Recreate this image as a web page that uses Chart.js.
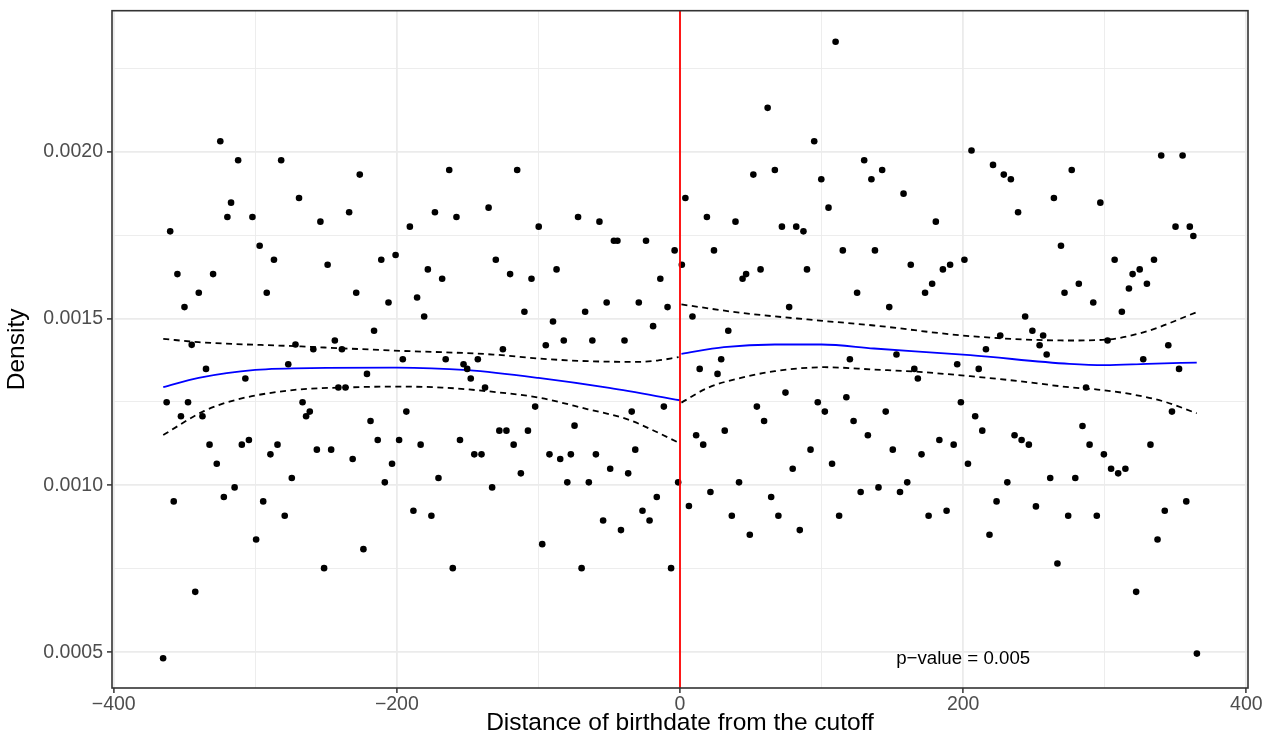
<!DOCTYPE html>
<html>
<head>
<meta charset="utf-8">
<script src="https://cdn.jsdelivr.net/npm/chart.js@4.4.1/dist/chart.umd.min.js"></script>
<style>
html,body{margin:0;padding:0;background:#ffffff;}
#wrap{width:1272px;height:744px;}
</style>
</head>
<body>
<div id="wrap"><canvas id="c" width="1272" height="744"></canvas></div>
<script>
// ---------- data ----------
const xLeft = [-365.1,-362.6,-360.1,-357.6,-355.0,-352.5,-350.0,-347.5,-344.9,-342.4,-339.9,-337.3,-334.8,-332.3,-329.8,-327.2,-324.7,-322.2,-319.7,-317.1,-314.6,-312.1,-309.5,-307.0,-304.5,-302.0,-299.4,-296.9,-294.4,-291.9,-289.3,-286.8,-284.3,-281.7,-279.2,-276.7,-274.2,-271.6,-269.1,-266.6,-264.1,-261.5,-259.0,-256.5,-254.0,-251.4,-248.9,-246.4,-243.8,-241.3,-238.8,-236.3,-233.7,-231.2,-228.7,-226.2,-223.6,-221.1,-218.6,-216.1,-213.5,-211.0,-208.5,-205.9,-203.4,-200.9,-198.4,-195.8,-193.3,-190.8,-188.3,-185.7,-183.2,-180.7,-178.1,-175.6,-173.1,-170.6,-168.0,-165.5,-163.0,-160.5,-157.9,-155.4,-152.9,-150.3,-147.8,-145.3,-142.8,-140.2,-137.7,-135.2,-132.7,-130.1,-127.6,-125.1,-122.6,-120.0,-117.5,-115.0,-112.4,-109.9,-107.4,-104.9,-102.3,-99.8,-97.3,-94.8,-92.2,-89.7,-87.2,-84.6,-82.1,-79.6,-77.1,-74.5,-72.0,-69.5,-67.0,-64.4,-61.9,-59.4,-56.9,-54.3,-51.8,-49.3,-46.7,-44.2,-41.7,-39.2,-36.6,-34.1,-31.6,-29.1,-26.5,-24.0,-21.5,-19.0,-16.4,-13.9,-11.4,-8.8,-6.3,-3.8,-1.3];
const densityLeft = [0.000482,0.001249,0.001761,0.000952,0.001633,0.001207,0.001534,0.001249,0.001421,0.000681,
0.001577,0.001207,0.001349,0.001122,0.001633,0.001065,0.002031,0.000965,0.001804,0.001847,
0.000994,0.001974,0.001122,0.001320,0.001136,0.001804,0.000838,0.001718,0.000952,0.001577,
0.001093,0.001676,0.001122,0.001974,0.000909,0.001363,0.001022,0.001422,0.001861,0.001249,
0.001207,0.001221,0.001408,0.001107,0.001790,0.000752,0.001661,0.001107,0.001434,0.001293,
0.001408,0.001293,0.001818,0.001079,0.001577,0.001931,0.000809,0.001334,0.001193,0.001463,
0.001136,0.001676,0.001009,0.001548,0.001065,0.001690,0.001136,0.001378,0.001221,0.001775,
0.000924,0.001563,0.001122,0.001506,0.001647,0.000909,0.001818,0.001022,0.001619,0.001378,
0.001945,0.000752,0.001804,0.001136,0.001363,0.001349,0.001320,0.001093,0.001378,0.001093,
0.001293,0.001832,0.000994,0.001676,0.001164,0.001408,0.001164,0.001633,0.001122,0.001945,
0.001036,0.001520,0.001164,0.001619,0.001236,0.001775,0.000824,0.001420,0.001093,0.001491,
0.001647,0.001079,0.001434,0.001009,0.001093,0.001179,0.001804,0.000752,0.001520,0.001009,
0.001434,0.001093,0.001790,0.000895,0.001548,0.001050,0.001733,0.001733,0.000866,0.001434,
0.001036,0.001221,0.001107,0.001548,0.000924,0.001733,0.000895,0.001477,0.000965,0.001619,
0.001236,0.001534,0.000752,0.001704,0.001009];
const xRight = [1.3,3.8,6.3,8.8,11.4,13.9,16.4,19.0,21.5,24.0,26.5,29.1,31.6,34.1,36.6,39.2,41.7,44.2,46.7,49.3,51.8,54.3,56.9,59.4,61.9,64.4,67.0,69.5,72.0,74.5,77.1,79.6,82.1,84.6,87.2,89.7,92.2,94.8,97.3,99.8,102.3,104.9,107.4,109.9,112.4,115.0,117.5,120.0,122.6,125.1,127.6,130.1,132.7,135.2,137.7,140.2,142.8,145.3,147.8,150.3,152.9,155.4,157.9,160.5,163.0,165.5,168.0,170.6,173.1,175.6,178.1,180.7,183.2,185.7,188.3,190.8,193.3,195.8,198.4,200.9,203.4,205.9,208.5,211.0,213.5,216.1,218.6,221.1,223.6,226.2,228.7,231.2,233.7,236.3,238.8,241.3,243.8,246.4,248.9,251.4,254.0,256.5,259.0,261.5,264.1,266.6,269.1,271.6,274.2,276.7,279.2,281.7,284.3,286.8,289.3,291.9,294.4,296.9,299.4,302.0,304.5,307.0,309.5,312.1,314.6,317.1,319.7,322.2,324.7,327.2,329.8,332.3,334.8,337.3,339.9,342.4,344.9,347.5,350.0,352.5,355.0,357.6,360.1,362.6,365.1];
const densityRight = [0.001661,0.001861,0.000938,0.001506,0.001150,0.001349,0.001122,0.001804,0.000980,0.001704,
0.001334,0.001378,0.001164,0.001463,0.000909,0.001790,0.001009,0.001619,0.001633,0.000852,
0.001931,0.001236,0.001647,0.001193,0.002131,0.000965,0.001945,0.000909,0.001775,0.001278,
0.001534,0.001050,0.001775,0.000866,0.001761,0.001647,0.001107,0.002031,0.001249,0.001917,
0.001221,0.001832,0.001065,0.002329,0.000909,0.001704,0.001264,0.001378,0.001193,0.001577,
0.000980,0.001974,0.001150,0.001917,0.001704,0.000994,0.001945,0.001221,0.001534,0.001107,
0.001392,0.000980,0.001874,0.001009,0.001661,0.001349,0.001320,0.001093,0.001577,0.000909,
0.001604,0.001790,0.001136,0.001647,0.000924,0.001661,0.001122,0.001363,0.001249,0.001676,
0.001065,0.002003,0.001207,0.001349,0.001164,0.001408,0.000852,0.001960,0.000952,0.001449,
0.001931,0.001009,0.001917,0.001150,0.001818,0.001136,0.001506,0.001122,0.001463,0.000937,
0.001420,0.001449,0.001392,0.001022,0.001861,0.000766,0.001718,0.001577,0.000909,0.001945,
0.001022,0.001604,0.001178,0.001293,0.001122,0.001548,0.000909,0.001847,0.001093,0.001434,
0.001050,0.001676,0.001036,0.001520,0.001050,0.001590,0.001633,0.000681,0.001647,0.001378,
0.001604,0.001122,0.001676,0.000838,0.001988,0.000924,0.001420,0.001221,0.001775,0.001349,
0.001988,0.000952,0.001775,0.001747,0.000496];

// local fit and confidence band (left of cutoff)
const fitLeftX   = [-365, -340, -300, -250, -200, -150, -100, -50, 0];
const fitLeftY   = [0.001294, 0.001322, 0.001346, 0.001352, 0.001353, 0.001345, 0.001322, 0.001292, 0.001255];
const upperLeftX = [-365, -340, -272, -203, -132, -100, -65, -30, -16, -1];
const upperLeftY = [0.001439, 0.001429, 0.001417, 0.001404, 0.001392, 0.001380, 0.001372, 0.001370, 0.001374, 0.001384];
const lowerLeftX = [-365, -336, -312, -270, -238, -203, -168, -136, -100, -65, -37, -18, -1];
const lowerLeftY = [0.001151, 0.001223, 0.001258, 0.001287, 0.001293, 0.001296, 0.001293, 0.001282, 0.001263, 0.001228, 0.001198, 0.001163, 0.001128];
// local fit and confidence band (right of cutoff)
const fitRightX   = [1, 31, 67, 100, 137, 205, 275, 300, 330, 365];
const fitRightY   = [0.001394, 0.001414, 0.001422, 0.001422, 0.001410, 0.001390, 0.001364, 0.001360, 0.001364, 0.001368];
const upperRightX = [1, 43, 90, 137, 205, 275, 302, 330, 365];
const upperRightY = [0.001542, 0.001517, 0.001497, 0.001479, 0.001447, 0.001434, 0.001437, 0.001462, 0.001519];
const lowerRightX = [1, 20, 43, 67, 102, 137, 169, 205, 240, 275, 295, 319, 342, 365];
const lowerRightY = [0.001248, 0.001293, 0.001322, 0.001342, 0.001354, 0.001347, 0.001340, 0.001327, 0.001312, 0.001294, 0.001287, 0.001273, 0.001251, 0.001216];

const cutoff = 0;
const pValueText = 'p\u2212value = 0.005';
const pValueAt = {x: 200, y: 0.00048};

const xTickValues = [-400, -300, -200, -100, 0, 100, 200, 300, 400];
const xTickLabelled = [-400, -200, 0, 200, 400];
const yTickValues = [0.0005, 0.00075, 0.0010, 0.00125, 0.0015, 0.00175, 0.0020, 0.00225];
const yTickLabelled = [0.0005, 0.0010, 0.0015, 0.0020];

const xRange = [-401.2, 401.2];
const yRange = [0.000393, 0.002422];

// ---------- helpers ----------
const FONT = "'Liberation Sans', Arial, Helvetica, sans-serif";
const zip = (xs, ys) => xs.map((x, i) => ({x: x, y: ys[i]}));
const isIn = (arr, v) => arr.some(a => Math.abs(a - v) < 1e-9);
const fmtX = v => (v < 0 ? '\u2212' + Math.abs(v) : String(v));

function lineSet(xs, ys, color, dashed) {
  return {
    type: 'scatter', data: zip(xs, ys), showLine: true,
    borderColor: color, borderWidth: 1.8, borderDash: dashed ? [6, 4.5] : [],
    pointRadius: 0, pointHoverRadius: 0, fill: false,
    tension: 0.4, cubicInterpolationMode: 'monotone'
  };
}

const frame = {
  id: 'frame',
  afterDatasetsDraw(chart) {
    const {ctx, chartArea: a, scales} = chart;
    const px = scales.x.getPixelForValue(cutoff);
    ctx.save();
    ctx.strokeStyle = '#FF0000';
    ctx.lineWidth = 1.8;
    ctx.beginPath();
    ctx.moveTo(px, a.top);
    ctx.lineTo(px, a.bottom);
    ctx.stroke();
    ctx.fillStyle = '#000000';
    ctx.font = '18.7px ' + FONT;
    ctx.textAlign = 'center';
    ctx.textBaseline = 'middle';
    ctx.fillText(pValueText, scales.x.getPixelForValue(pValueAt.x), scales.y.getPixelForValue(pValueAt.y));
    ctx.strokeStyle = '#333333';
    ctx.lineWidth = 1.6;
    ctx.strokeRect(a.left, a.top, a.right - a.left, a.bottom - a.top);
    ctx.restore();
  }
};

new Chart(document.getElementById('c'), {
  type: 'scatter',
  data: {
    datasets: [
      {
        data: zip(xLeft.concat(xRight), densityLeft.concat(densityRight)),
        backgroundColor: '#000000', borderWidth: 0, pointRadius: 3.3, pointHoverRadius: 3.3
      },
      lineSet(fitLeftX, fitLeftY, '#0000FF', false),
      lineSet(upperLeftX, upperLeftY, '#000000', true),
      lineSet(lowerLeftX, lowerLeftY, '#000000', true),
      lineSet(fitRightX, fitRightY, '#0000FF', false),
      lineSet(upperRightX, upperRightY, '#000000', true),
      lineSet(lowerRightX, lowerRightY, '#000000', true)
    ]
  },
  options: {
    responsive: false,
    animation: false,
    devicePixelRatio: 1,
    layout: {padding: {left: 0, right: 24, top: 10.7, bottom: 0}},
    plugins: {legend: {display: false}, tooltip: {enabled: false}},
    scales: {
      x: {
        type: 'linear', min: xRange[0], max: xRange[1],
        afterBuildTicks: s => { s.ticks = xTickValues.map(v => ({value: v})); },
        afterFit: s => { s.height = 56; s.paddingLeft = 0; s.paddingRight = 0; },
        border: {display: false},
        grid: {
          color: '#EBEBEB',
          lineWidth: c => (c.tick && isIn(xTickLabelled, c.tick.value) ? 1.8 : 0.9),
          tickLength: 5,
          tickWidth: 1.5,
          tickColor: c => (c.tick && isIn(xTickLabelled, c.tick.value) ? '#333333' : 'rgba(0,0,0,0)')
        },
        ticks: {
          autoSkip: false, maxRotation: 0, padding: 0, color: '#4D4D4D',
          font: {family: FONT, size: 19.5},
          callback: v => (isIn(xTickLabelled, v) ? fmtX(v) : '')
        },
        title: {
          display: true, text: 'Distance of birthdate from the cutoff', color: '#000000',
          font: {family: FONT, size: 24.5}, padding: {top: 0, bottom: 6}
        }
      },
      y: {
        type: 'linear', min: yRange[0], max: yRange[1],
        afterBuildTicks: s => { s.ticks = yTickValues.map(v => ({value: v})); },
        afterFit: s => { s.width = 112; s.paddingTop = 0; s.paddingBottom = 0; },
        border: {display: false},
        grid: {
          color: '#EBEBEB',
          lineWidth: c => (c.tick && isIn(yTickLabelled, c.tick.value) ? 1.8 : 0.9),
          tickLength: 5,
          tickWidth: 1.5,
          tickColor: c => (c.tick && isIn(yTickLabelled, c.tick.value) ? '#333333' : 'rgba(0,0,0,0)')
        },
        ticks: {
          autoSkip: false, padding: 4, color: '#4D4D4D',
          font: {family: FONT, size: 19.5},
          callback: v => (isIn(yTickLabelled, v) ? v.toFixed(4) : '')
        },
        title: {
          display: true, text: 'Density', color: '#000000',
          font: {family: FONT, size: 24.5}, padding: {top: 3, bottom: 0}
        }
      }
    }
  },
  plugins: [frame]
});
</script>
</body>
</html>
